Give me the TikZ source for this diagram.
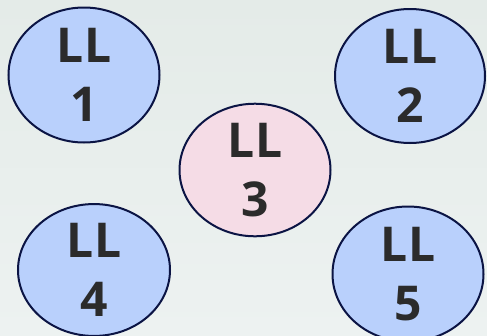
\documentclass[tikz,border=0pt]{standalone}
\usepackage{fontspec}
\setsansfont{Open Sans}
\usetikzlibrary{shapes.geometric}
\definecolor{bgtop}{HTML}{E4EBE8}
\definecolor{bgbottom}{HTML}{EDF2F1}
\definecolor{llblue}{HTML}{B9D0FC}
\definecolor{llpink}{HTML}{F5DCE6}
\definecolor{lledge}{HTML}{0B1444}
\definecolor{lltext}{HTML}{2B2B2B}

\begin{document}
\begin{tikzpicture}[x=1pt, y=-1pt,
  ll/.style={ellipse, draw=lledge, line width=2pt, inner sep=0pt, text=lltext,
    font=\sffamily\bfseries\fontsize{48}{59}\selectfont, align=center}]
\clip (0, 0) rectangle (487, 335);
\shade[top color=bgtop, bottom color=bgbottom] (0, 0) rectangle (487, 335);
\node[ll, fill=llblue, minimum width=151, minimum height=135] (ll1) at (84, 75) {LL\\1};
\node[ll, fill=llblue, minimum width=150, minimum height=134] (ll2) at (410, 76) {LL\\2};
\node[ll, fill=llpink, minimum width=151, minimum height=125] (ll3) at (255, 170) {LL\\3};
\node[ll, fill=llblue, minimum width=152, minimum height=123] (ll4) at (94, 270) {LL\\4};
\node[ll, fill=llblue, minimum width=151, minimum height=135] (ll5) at (408, 274) {LL\\5};
\end{tikzpicture}
\end{document}
